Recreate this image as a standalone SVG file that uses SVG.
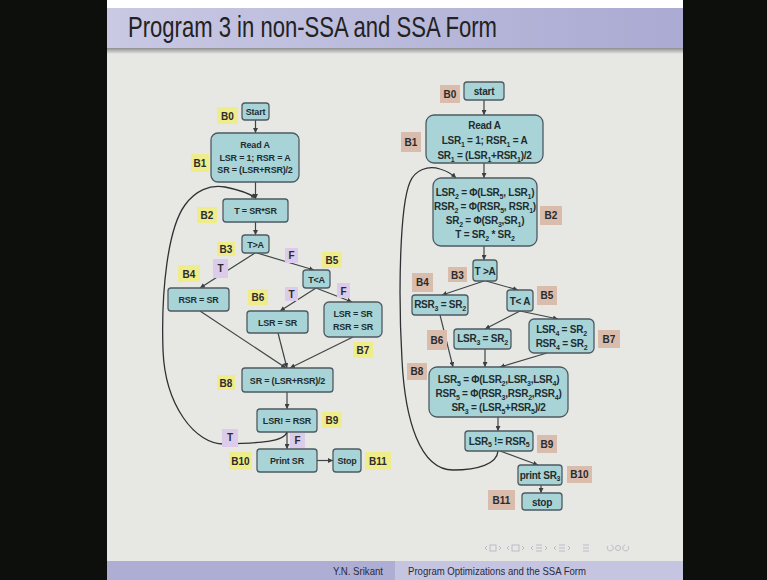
<svg xmlns="http://www.w3.org/2000/svg" width="767" height="580" viewBox="0 0 767 580">
  <defs>
    <linearGradient id="titleGrad" x1="0" y1="0" x2="1" y2="0">
      <stop offset="0" stop-color="#c9c9e4"/>
      <stop offset="1" stop-color="#aaaad3"/>
    </linearGradient>
    <linearGradient id="shadowGrad" x1="0" y1="0" x2="0" y2="1">
      <stop offset="0" stop-color="#8e8e8e"/>
      <stop offset="1" stop-color="#e7e8e4"/>
    </linearGradient>
    <marker id="ah" viewBox="0 0 6 6" refX="6" refY="3" markerWidth="5" markerHeight="5" markerUnits="userSpaceOnUse" orient="auto">
      <path d="M0,0 L6,3 L0,6 z" fill="#3a3f42"/>
    </marker>
    <style>
      .box { fill: #a9d4d7; stroke: #4d5a60; stroke-width: 1.3; }
      .t { font-family: "Liberation Sans", Arial, sans-serif; font-weight: bold; font-size: 9px; fill: #1f2d30; text-anchor: middle; letter-spacing: -0.2px; }
      .tr { font-family: "Liberation Sans", Arial, sans-serif; font-weight: bold; font-size: 10px; fill: #1f2d30; text-anchor: middle; letter-spacing: -0.25px; }
      .s { font-size: 7px; }
      .lbY { fill: #efec8c; }
      .lbP { fill: #dccbea; }
      .lbR { fill: #d9bcab; }
      .lb { font-family: "Liberation Sans", Arial, sans-serif; font-weight: bold; font-size: 10px; fill: #2b2b2b; text-anchor: middle; }
      .e { stroke: #3f4446; stroke-width: 1.2; fill: none; marker-end: url(#ah); }
      .loop { stroke: #2e3234; stroke-width: 1.3; fill: none; marker-end: url(#ah); }
      .nav { stroke: #b9bcc6; stroke-width: 1; fill: none; }
    </style>
  </defs>

  <!-- page and slide frame -->
  <rect x="0" y="0" width="767" height="580" fill="#ffffff"/>
  <rect x="0" y="0" width="107" height="580" fill="#0d0f0c"/>
  <rect x="683" y="0" width="84" height="580" fill="#0d0f0c"/>
  <rect x="107" y="48" width="576" height="513" fill="#e7e8e4"/>
  <rect x="107" y="8" width="576" height="40" fill="url(#titleGrad)"/>
  <rect x="107" y="48" width="576" height="6" fill="url(#shadowGrad)"/>
  <text x="128" y="37" font-family="'Liberation Sans', Arial, sans-serif" font-size="30" fill="#222222" textLength="369" lengthAdjust="spacingAndGlyphs">Program 3 in non-SSA and SSA Form</text>

  <!-- footer -->
  <rect x="107" y="561" width="288" height="19" fill="#aeaed4"/>
  <rect x="395" y="561" width="288" height="19" fill="#c5c5e1"/>
  <text x="383" y="575" font-family="'Liberation Sans', Arial, sans-serif" font-size="11" fill="#2a2a3a" text-anchor="end" textLength="50" lengthAdjust="spacingAndGlyphs">Y.N. Srikant</text>
  <text x="408" y="575" font-family="'Liberation Sans', Arial, sans-serif" font-size="11" fill="#2a2a3a" textLength="178" lengthAdjust="spacingAndGlyphs">Program Optimizations and the SSA Form</text>

  <!-- navigation symbols -->
  <g id="nav" class="nav">
    <path d="M487,546 l-2,2 l2,2"/><rect x="490" y="545" width="6" height="6"/><path d="M499,546 l2,2 l-2,2"/>
    <path d="M509,546 l-2,2 l2,2"/><rect x="512" y="545" width="7" height="6"/><path d="M522,546 l2,2 l-2,2"/>
    <path d="M533,546 l-2,2 l2,2"/><path d="M536,545 h6 M536,548 h6 M536,551 h6"/><path d="M545,546 l2,2 l-2,2"/>
    <path d="M556,546 l-2,2 l2,2"/><path d="M559,545 h6 M559,548 h6 M559,551 h6"/><path d="M568,546 l2,2 l-2,2"/>
    <path d="M583,545 h6 M583,548 h6 M583,551 h6"/>
    <path d="M608,546 a3,3 0 1,0 3,-1"/><circle cx="618" cy="548" r="2.5"/><path d="M628,546 a3,3 0 1,1 -3,-1"/>
  </g>

  <!-- ===== non-SSA form ===== -->
  <g id="L_connectors">
    <line class="e" x1="255.5" y1="120" x2="255.5" y2="133"/>
    <line class="e" x1="255.5" y1="182" x2="255.5" y2="199"/>
    <line class="e" x1="255.5" y1="222" x2="255.5" y2="235"/>
    <line class="e" x1="255" y1="253" x2="200" y2="288"/>
    <line class="e" x1="257" y1="253" x2="314" y2="270"/>
    <line class="e" x1="316" y1="288" x2="280" y2="311"/>
    <line class="e" x1="316" y1="288" x2="352" y2="302"/>
    <line class="e" x1="200" y1="311" x2="286" y2="368"/>
    <line class="e" x1="278" y1="333" x2="287" y2="368"/>
    <line class="e" x1="353" y1="337" x2="290" y2="368"/>
    <line class="e" x1="287" y1="392" x2="287" y2="409"/>
    <line class="e" x1="287" y1="432" x2="287" y2="449"/>
    <line class="e" x1="317" y1="460.5" x2="333" y2="460.5"/>
    <path class="loop" d="M287,432 C284,442 260,443 225,444 C195,445 165,405 163,350 C161,290 168,228 185,205 C195,191 210,184 225,187 C240,190 250,194 256,198"/>
  </g>

  <g id="L_B0">
    <rect class="lbY" x="217" y="107" width="21" height="17"/><text class="lb" x="227.5" y="119.5">B0</text>
    <rect class="box" x="242" y="103" width="27" height="17" rx="3"/><text class="t" x="255.5" y="115">Start</text>
  </g>
  <g id="L_B1">
    <rect class="lbY" x="191" y="154" width="18" height="18"/><text class="lb" x="200" y="167">B1</text>
    <rect class="box" x="211" y="133" width="88" height="49" rx="7"/>
    <text class="t" x="255" y="148">Read A</text>
    <text class="t" x="255" y="161">LSR = 1; RSR = A</text>
    <text class="t" x="255" y="173">SR = (LSR+RSR)/2</text>
  </g>
  <g id="L_B2">
    <rect class="lbY" x="197" y="207" width="20" height="16"/><text class="lb" x="207" y="219">B2</text>
    <rect class="box" x="223" y="199" width="65" height="23" rx="3"/><text class="t" x="255.5" y="214">T = SR*SR</text>
  </g>
  <g id="L_B3">
    <rect class="lbY" x="217" y="242" width="18" height="14"/><text class="lb" x="226" y="253">B3</text>
    <rect class="box" x="242" y="235" width="27" height="18" rx="3"/><text class="t" x="255.5" y="247.5">T&gt;A</text>
    <rect class="lbP" x="213" y="259" width="15" height="19"/><text class="lb" x="220.5" y="272">T</text>
    <rect class="lbP" x="285" y="248" width="13" height="15"/><text class="lb" x="291.5" y="259">F</text>
  </g>
  <g id="L_B4">
    <rect class="lbY" x="178" y="265" width="22" height="17"/><text class="lb" x="189" y="277.5">B4</text>
    <rect class="box" x="168" y="288" width="61" height="23" rx="3"/><text class="t" x="198.5" y="303">RSR = SR</text>
  </g>
  <g id="L_B5">
    <rect class="lbY" x="322" y="252" width="20" height="16"/><text class="lb" x="332" y="264">B5</text>
    <rect class="box" x="303" y="270" width="27" height="18" rx="3"/><text class="t" x="316.5" y="282.5">T&lt;A</text>
    <rect class="lbP" x="285" y="287" width="13" height="14"/><text class="lb" x="291.5" y="298">T</text>
    <rect class="lbP" x="337" y="283" width="13" height="15"/><text class="lb" x="343.5" y="294.5">F</text>
  </g>
  <g id="L_B6">
    <rect class="lbY" x="248" y="289" width="20" height="16"/><text class="lb" x="258" y="301">B6</text>
    <rect class="box" x="247" y="311" width="61" height="22" rx="3"/><text class="t" x="277.5" y="325.5">LSR = SR</text>
  </g>
  <g id="L_B7">
    <rect class="box" x="324" y="302" width="58" height="35" rx="5"/>
    <text class="t" x="353" y="317">LSR = SR</text>
    <text class="t" x="353" y="330">RSR = SR</text>
    <rect class="lbY" x="353" y="342" width="20" height="16"/><text class="lb" x="363" y="354">B7</text>
  </g>
  <g id="L_B8">
    <rect class="lbY" x="217" y="375" width="18" height="15"/><text class="lb" x="226" y="386.5">B8</text>
    <rect class="box" x="242" y="368" width="91" height="24" rx="3"/><text class="t" x="287.5" y="383.5">SR = (LSR+RSR)/2</text>
  </g>
  <g id="L_B9">
    <rect class="box" x="257" y="409" width="60" height="23" rx="3"/><text class="t" x="287" y="424">LSR! = RSR</text>
    <rect class="lbY" x="322" y="412" width="20" height="16"/><text class="lb" x="332" y="424">B9</text>
    <rect class="lbP" x="222" y="429" width="16" height="18"/><text class="lb" x="230" y="441">T</text>
    <rect class="lbP" x="290" y="433" width="15" height="15"/><text class="lb" x="297.5" y="444">F</text>
  </g>
  <g id="L_B10">
    <rect class="lbY" x="229" y="452" width="23" height="18"/><text class="lb" x="240.5" y="465">B10</text>
    <rect class="box" x="257" y="449" width="60" height="23" rx="3"/><text class="t" x="287" y="464">Print SR</text>
  </g>
  <g id="L_B11">
    <rect class="box" x="333" y="449" width="28" height="23" rx="3"/><text class="t" x="347" y="464">Stop</text>
    <rect class="lbY" x="365" y="452" width="26" height="18"/><text class="lb" x="378" y="465">B11</text>
  </g>

  <!-- ===== SSA form ===== -->
  <g id="R_connectors">
    <line class="e" x1="484" y1="100" x2="484" y2="115"/>
    <line class="e" x1="484" y1="163" x2="484" y2="178"/>
    <line class="e" x1="484" y1="246" x2="484" y2="260"/>
    <line class="e" x1="484" y1="281" x2="442" y2="295"/>
    <line class="e" x1="486" y1="281" x2="518" y2="290"/>
    <line class="e" x1="520" y1="311" x2="485" y2="329"/>
    <line class="e" x1="520" y1="311" x2="558" y2="319"/>
    <line class="e" x1="440" y1="315" x2="453" y2="367"/>
    <line class="e" x1="485" y1="349" x2="485" y2="367"/>
    <line class="e" x1="547" y1="353" x2="500" y2="367"/>
    <line class="e" x1="498" y1="417" x2="498" y2="431"/>
    <line class="e" x1="500" y1="451" x2="538" y2="465"/>
    <line class="e" x1="541" y1="485" x2="541" y2="493"/>
    <path class="loop" d="M498,451 C497,464 478,470 453,470 C420,470 405,420 402,360 C398,290 400,205 410,182 C415,170 428,165 440,169 C447,171 452,174 456,178"/>
  </g>

  <g id="R_B0">
    <rect class="lbR" x="440" y="85" width="20" height="18"/><text class="lb" x="450" y="97.5">B0</text>
    <rect class="box" x="464" y="82" width="40" height="18" rx="3"/><text class="tr" x="484" y="95">start</text>
  </g>
  <g id="R_B1">
    <rect class="lbR" x="401" y="132" width="20" height="20"/><text class="lb" x="411" y="145.5">B1</text>
    <rect class="box" x="426" y="115" width="117" height="48" rx="8"/>
    <text class="tr" x="484.5" y="129">Read A</text>
    <text class="tr" x="484.5" y="144">LSR<tspan class="s" dy="2.5">1</tspan><tspan dy="-2.5"> = 1; RSR</tspan><tspan class="s" dy="2.5">1</tspan><tspan dy="-2.5"> = A</tspan></text>
    <text class="tr" x="484.5" y="159">SR<tspan class="s" dy="2.5">1</tspan><tspan dy="-2.5"> = (LSR</tspan><tspan class="s" dy="2.5">1</tspan><tspan dy="-2.5">+RSR</tspan><tspan class="s" dy="2.5">1</tspan><tspan dy="-2.5">)/2</tspan></text>
  </g>
  <g id="R_B2">
    <rect class="box" x="433" y="178" width="104" height="68" rx="8"/>
    <text class="tr" x="485" y="196">LSR<tspan class="s" dy="2.5">2</tspan><tspan dy="-2.5"> = Φ(LSR</tspan><tspan class="s" dy="2.5">5</tspan><tspan dy="-2.5">, LSR</tspan><tspan class="s" dy="2.5">1</tspan><tspan dy="-2.5">)</tspan></text>
    <text class="tr" x="485" y="210">RSR<tspan class="s" dy="2.5">2</tspan><tspan dy="-2.5"> = Φ(RSR</tspan><tspan class="s" dy="2.5">5</tspan><tspan dy="-2.5">, RSR</tspan><tspan class="s" dy="2.5">1</tspan><tspan dy="-2.5">)</tspan></text>
    <text class="tr" x="485" y="224">SR<tspan class="s" dy="2.5">2</tspan><tspan dy="-2.5"> = Φ(SR</tspan><tspan class="s" dy="2.5">3</tspan><tspan dy="-2.5">,SR</tspan><tspan class="s" dy="2.5">1</tspan><tspan dy="-2.5">)</tspan></text>
    <text class="tr" x="485" y="238">T = SR<tspan class="s" dy="2.5">2</tspan><tspan dy="-2.5"> * SR</tspan><tspan class="s" dy="2.5">2</tspan></text>
    <rect class="lbR" x="540" y="206" width="22" height="19"/><text class="lb" x="551" y="219">B2</text>
  </g>
  <g id="R_B3">
    <rect class="lbR" x="448" y="267" width="19" height="15"/><text class="lb" x="457.5" y="278.5">B3</text>
    <rect class="box" x="473" y="260" width="24" height="21" rx="3"/><text class="tr" x="485" y="274.5">T &gt;A</text>
  </g>
  <g id="R_B4">
    <rect class="lbR" x="412" y="273" width="21" height="19"/><text class="lb" x="422.5" y="286">B4</text>
    <rect class="box" x="412" y="295" width="56" height="20" rx="3"/>
    <text class="tr" x="440" y="308">RSR<tspan class="s" dy="2.5">3</tspan><tspan dy="-2.5"> = SR</tspan><tspan class="s" dy="2.5">2</tspan></text>
  </g>
  <g id="R_B5">
    <rect class="box" x="507" y="290" width="26" height="21" rx="3"/><text class="tr" x="520" y="304.5">T&lt; A</text>
    <rect class="lbR" x="537" y="286" width="20" height="19"/><text class="lb" x="547" y="299">B5</text>
  </g>
  <g id="R_B6">
    <rect class="lbR" x="427" y="330" width="20" height="20"/><text class="lb" x="437" y="343.5">B6</text>
    <rect class="box" x="454" y="329" width="57" height="20" rx="3"/>
    <text class="tr" x="482.5" y="342">LSR<tspan class="s" dy="2.5">3</tspan><tspan dy="-2.5"> = SR</tspan><tspan class="s" dy="2.5">2</tspan></text>
  </g>
  <g id="R_B7">
    <rect class="box" x="529" y="319" width="65" height="34" rx="5"/>
    <text class="tr" x="561.5" y="333">LSR<tspan class="s" dy="2.5">4</tspan><tspan dy="-2.5"> = SR</tspan><tspan class="s" dy="2.5">2</tspan></text>
    <text class="tr" x="561.5" y="347">RSR<tspan class="s" dy="2.5">4</tspan><tspan dy="-2.5"> = SR</tspan><tspan class="s" dy="2.5">2</tspan></text>
    <rect class="lbR" x="598" y="330" width="22" height="18"/><text class="lb" x="609" y="342.5">B7</text>
  </g>
  <g id="R_B8">
    <rect class="lbR" x="407" y="363" width="20" height="17"/><text class="lb" x="417" y="375">B8</text>
    <rect class="box" x="429" y="367" width="139" height="50" rx="8"/>
    <text class="tr" x="498.5" y="383">LSR<tspan class="s" dy="2.5">5</tspan><tspan dy="-2.5"> = Φ(LSR</tspan><tspan class="s" dy="2.5">2</tspan><tspan dy="-2.5">,LSR</tspan><tspan class="s" dy="2.5">3</tspan><tspan dy="-2.5">,LSR</tspan><tspan class="s" dy="2.5">4</tspan><tspan dy="-2.5">)</tspan></text>
    <text class="tr" x="498.5" y="397">RSR<tspan class="s" dy="2.5">5</tspan><tspan dy="-2.5"> = Φ(RSR</tspan><tspan class="s" dy="2.5">3</tspan><tspan dy="-2.5">,RSR</tspan><tspan class="s" dy="2.5">2</tspan><tspan dy="-2.5">,RSR</tspan><tspan class="s" dy="2.5">4</tspan><tspan dy="-2.5">)</tspan></text>
    <text class="tr" x="498.5" y="411">SR<tspan class="s" dy="2.5">3</tspan><tspan dy="-2.5"> = (LSR</tspan><tspan class="s" dy="2.5">5</tspan><tspan dy="-2.5">+RSR</tspan><tspan class="s" dy="2.5">5</tspan><tspan dy="-2.5">)/2</tspan></text>
  </g>
  <g id="R_B9">
    <rect class="box" x="465" y="431" width="68" height="20" rx="3"/>
    <text class="tr" x="499" y="444.5">LSR<tspan class="s" dy="2.5">5</tspan><tspan dy="-2.5"> != RSR</tspan><tspan class="s" dy="2.5">5</tspan></text>
    <rect class="lbR" x="537" y="435" width="20" height="18"/><text class="lb" x="547" y="447.5">B9</text>
  </g>
  <g id="R_B10">
    <rect class="box" x="518" y="465" width="44" height="20" rx="3"/>
    <text class="tr" x="540" y="478.5">print SR<tspan class="s" dy="2.5">3</tspan></text>
    <rect class="lbR" x="567" y="466" width="25" height="17"/><text class="lb" x="579.5" y="478">B10</text>
  </g>
  <g id="R_B11">
    <rect class="lbR" x="488" y="490" width="27" height="20" rx="0"/><text class="lb" x="501.5" y="503.5">B11</text>
    <rect class="box" x="522" y="493" width="40" height="17" rx="3"/><text class="tr" x="542" y="505.5">stop</text>
  </g>
</svg>
